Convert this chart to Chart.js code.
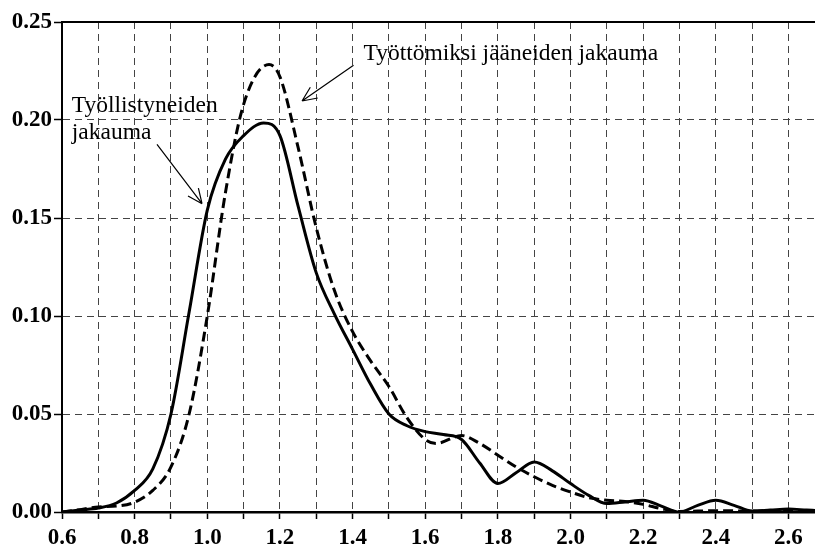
<!DOCTYPE html>
<html>
<head>
<meta charset="utf-8">
<script src="https://cdn.jsdelivr.net/npm/chart.js@4.4.1/dist/chart.umd.min.js"></script>
<style>
    body { margin: 0; background: #fff; }
    #contenedor { width: 815px; height: 544px; position: relative; }
</style>
</head>
<body>
<div id="contenedor"><canvas id="graphJakauma"></canvas></div>
<script>
//Datos
const xTyollistyneet = [0.60, 0.65, 0.70, 0.75, 0.80, 0.85, 0.90, 0.95, 1.00, 1.05, 1.10, 1.155, 1.20, 1.25, 1.30, 1.35, 1.40, 1.45, 1.50, 1.55, 1.60, 1.65, 1.70, 1.75, 1.80, 1.85, 1.90, 1.95, 2.00, 2.05, 2.10, 2.15, 2.20, 2.25, 2.30, 2.35, 2.40, 2.45, 2.50, 2.55, 2.60, 2.65, 2.673];
const tyollistyneet = [0.000, 0.001, 0.002, 0.0046, 0.011, 0.022, 0.050, 0.102, 0.154, 0.180, 0.192, 0.1985, 0.192, 0.156, 0.122, 0.101, 0.083, 0.065, 0.050, 0.044, 0.041, 0.0395, 0.037, 0.025, 0.0145, 0.020, 0.0255, 0.021, 0.0145, 0.0085, 0.0043, 0.0051, 0.006, 0.003, 0.000, 0.0034, 0.006, 0.0034, 0.0005, 0.001, 0.0015, 0.001, 0.0008];

const xTyottomiksi = [0.60, 0.65, 0.70, 0.75, 0.80, 0.85, 0.90, 0.95, 1.00, 1.05, 1.10, 1.17, 1.20, 1.25, 1.30, 1.35, 1.40, 1.45, 1.50, 1.55, 1.60, 1.63, 1.70, 1.75, 1.80, 1.85, 1.90, 1.95, 2.00, 2.05, 2.10, 2.15, 2.20, 2.25, 2.30, 2.35, 2.40, 2.45, 2.50, 2.55, 2.60, 2.65, 2.673];
const tyottomiksi = [0.000, 0.0012, 0.0026, 0.003, 0.005, 0.011, 0.023, 0.050, 0.100, 0.163, 0.208, 0.2283, 0.222, 0.186, 0.145, 0.113, 0.092, 0.077, 0.064, 0.048, 0.037, 0.035, 0.039, 0.035, 0.029, 0.023, 0.018, 0.0136, 0.0102, 0.0073, 0.006, 0.0053, 0.0039, 0.0017, 0.0003, 0.0005, 0.0007, 0.0006, 0.0005, 0.0007, 0.0008, 0.0007, 0.0006];

const xGrid = [0.6, 0.7, 0.8, 0.9, 1.0, 1.1, 1.2, 1.3, 1.4, 1.5, 1.6, 1.7, 1.8, 1.9, 2.0, 2.1, 2.2, 2.3, 2.4, 2.5, 2.6];
const xTickLabels = ['0.6', '0.8', '1.0', '1.2', '1.4', '1.6', '1.8', '2.0', '2.2', '2.4', '2.6'];
const yGrid = [0, 0.05, 0.10, 0.15, 0.20, 0.25];
const yTickLabels = ['0.00', '0.05', '0.10', '0.15', '0.20', '0.25'];

//Tekstit ja nuolet (koordinaatit datan yksiköissä)
const selitteet = [
    {rivit: ['Työllistyneiden', 'jakauma'], x: 0.627, y: 0.2041},
    {rivit: ['Työttömiksi jääneiden jakauma'], x: 1.430, y: 0.2308}
];
const nuolet = [
    {x1: 0.8615, y1: 0.1876, x2: 0.9855, y2: 0.1573},
    {x1: 1.4026, y1: 0.2279, x2: 1.2608, y2: 0.2097}
];

const fuente = 'Liberation Serif, Times New Roman, serif';

//Plugin: linea superior, textos y flechas
const extras = {
    id: 'extras',
    afterDatasetsDraw(chart) {
        const ctx = chart.ctx;
        const {left, right, top} = chart.chartArea;
        const sx = chart.scales.x;
        const sy = chart.scales.y;

        ctx.save();
        ctx.strokeStyle = '#000';
        ctx.lineWidth = 2;
        ctx.beginPath();
        ctx.moveTo(left - 1, top);
        ctx.lineTo(right, top);
        ctx.stroke();

        ctx.fillStyle = '#000';
        ctx.font = '23.5px ' + fuente;
        ctx.textAlign = 'left';
        ctx.textBaseline = 'alphabetic';
        selitteet.forEach(s => {
            const px = sx.getPixelForValue(s.x);
            const py = sy.getPixelForValue(s.y);
            s.rivit.forEach((r, i) => ctx.fillText(r, px, py + i * 27));
        });

        ctx.lineWidth = 1.2;
        nuolet.forEach(n => {
            const ax = sx.getPixelForValue(n.x1);
            const ay = sy.getPixelForValue(n.y1);
            const bx = sx.getPixelForValue(n.x2);
            const by = sy.getPixelForValue(n.y2);
            const ang = Math.atan2(by - ay, bx - ax);
            ctx.beginPath();
            ctx.moveTo(ax, ay);
            ctx.lineTo(bx, by);
            [-0.42, 0.42].forEach(d => {
                ctx.moveTo(bx, by);
                ctx.lineTo(bx - 16 * Math.cos(ang + d), by - 16 * Math.sin(ang + d));
            });
            ctx.stroke();
        });
        ctx.restore();
    }
};

const dataJak = {
    datasets: [{
        label: 'Työllistyneiden jakauma',
        data: xTyollistyneet.map((x, i) => ({x: x, y: tyollistyneet[i]})),
        borderColor: '#000',
        borderWidth: 3,
        pointRadius: 0,
        cubicInterpolationMode: 'monotone',
        fill: false
    }, {
        label: 'Työttömiksi jääneiden jakauma',
        data: xTyottomiksi.map((x, i) => ({x: x, y: tyottomiksi[i]})),
        borderColor: '#000',
        borderWidth: 3,
        borderDash: [10, 5],
        pointRadius: 0,
        cubicInterpolationMode: 'monotone',
        fill: false
    }]
};

const configJak = {
    type: 'line',
    data: dataJak,
    plugins: [extras],
    options: {
        responsive: true,
        maintainAspectRatio: false,
        animation: false,
        layout: {padding: {top: 22, right: 0, bottom: 0, left: 0}},
        plugins: {
            legend: {display: false},
            tooltip: {enabled: false}
        },
        scales: {
            x: {
                type: 'linear',
                min: 0.6,
                max: 2.673,
                afterBuildTicks: axis => { axis.ticks = xGrid.map(v => ({value: v})); },
                afterFit: axis => { axis.height = 32; },
                grid: {
                    color: '#444',
                    lineWidth: 1,
                    tickLength: 7,
                    tickColor: '#000',
                    tickWidth: 1.5,
                    tickBorderDash: []
                },
                border: {display: true, color: '#000', width: 2.5, dash: [7, 5]},
                ticks: {
                    color: '#000',
                    padding: 5,
                    maxRotation: 0,
                    autoSkip: false,
                    font: {family: fuente, size: 23, weight: 'bold'},
                    callback: value => {
                        const t = value.toFixed(1);
                        return xTickLabels.includes(t) ? t : '';
                    }
                }
            },
            y: {
                min: 0,
                max: 0.25,
                afterBuildTicks: axis => { axis.ticks = yGrid.map(v => ({value: v})); },
                afterFit: axis => { axis.width = 62; },
                grid: {
                    color: '#444',
                    lineWidth: 1,
                    tickLength: 8,
                    tickColor: '#000',
                    tickWidth: 1.5,
                    tickBorderDash: []
                },
                border: {display: true, color: '#000', width: 2, dash: [7, 5]},
                ticks: {
                    color: '#000',
                    padding: 2,
                    autoSkip: false,
                    font: {family: fuente, size: 23, weight: 'bold'},
                    callback: (value, i) => yTickLabels[i]
                }
            }
        }
    }
};

//Crea grafico
let graficoJakauma = document.querySelector('#graphJakauma');
new Chart(graficoJakauma, configJak);
</script>
</body>
</html>
